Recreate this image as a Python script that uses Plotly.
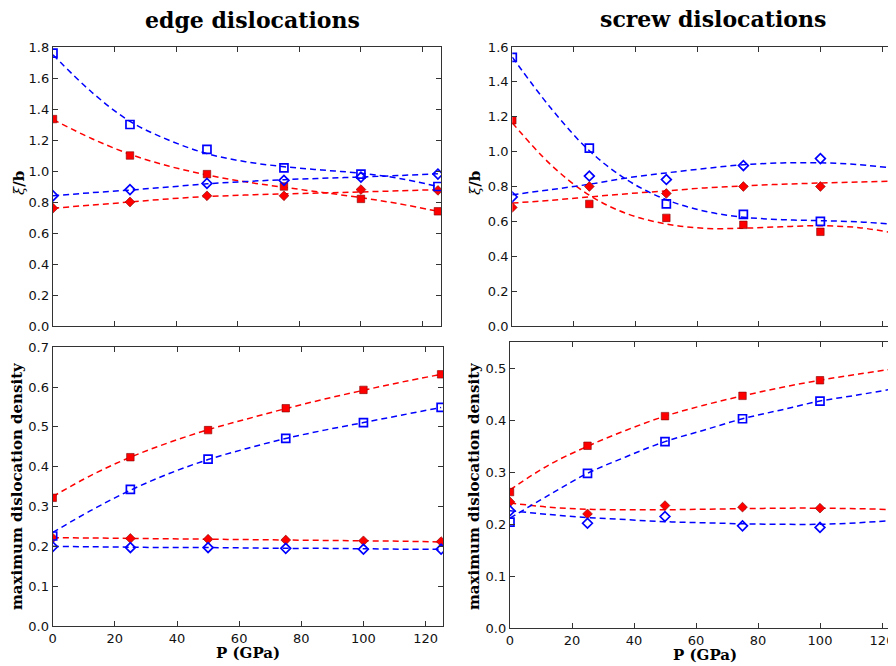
import plotly.graph_objects as go

PAGE_W, PAGE_H = 896, 666
OFF = 8  # default page margin around the figure
W, H = PAGE_W - OFF, PAGE_H - OFF

# ---------------- data ----------------
P = [0, 25, 50, 75, 100, 125]
P_fit = [0, 12.5, 25, 37.5, 50, 62.5, 75, 87.5, 100, 112.5, 125]

# edge dislocations, xi/b
edge_xi_sq_blue = [1.76, 1.30, 1.14, 1.02, 0.98, 0.90]
edge_xi_sq_red = [1.335, 1.10, 0.98, 0.90, 0.82, 0.74]
edge_xi_di_blue = [0.84, 0.88, 0.92, 0.94, 0.96, 0.98]
edge_xi_di_red = [0.76, 0.80, 0.84, 0.84, 0.88, 0.875]
edge_xi_fit_sq_blue = [1.75, 1.51, 1.32, 1.20, 1.112, 1.06, 1.028, 1.006, 0.986, 0.952, 0.90]
edge_xi_fit_sq_red = [1.332, 1.21, 1.108, 1.032, 0.975, 0.93, 0.895, 0.862, 0.828, 0.788, 0.74]
edge_xi_fit_di_blue = [0.84, 0.86, 0.877, 0.897, 0.917, 0.932, 0.944, 0.953, 0.961, 0.971, 0.982]
edge_xi_fit_di_red = [0.76, 0.78, 0.80, 0.82, 0.835, 0.845, 0.852, 0.858, 0.865, 0.872, 0.88]

# screw dislocations, xi/b
screw_xi_sq_blue = [1.54, 1.02, 0.70, 0.64, 0.60, 0.58]
screw_xi_sq_red = [1.18, 0.70, 0.62, 0.58, 0.54, 0.54]
screw_xi_di_blue = [0.74, 0.86, 0.84, 0.92, 0.96, 0.90]
screw_xi_di_red = [0.68, 0.80, 0.76, 0.80, 0.80, 0.84]
screw_xi_fit_sq_blue = [1.542, 1.25, 1.005, 0.835, 0.724, 0.658, 0.624, 0.61, 0.604, 0.597, 0.581]
screw_xi_fit_sq_red = [1.165, 0.925, 0.75, 0.642, 0.585, 0.56, 0.561, 0.569, 0.575, 0.564, 0.53]
screw_xi_fit_di_blue = [0.753, 0.782, 0.813, 0.85, 0.878, 0.903, 0.925, 0.935, 0.936, 0.925, 0.903]
screw_xi_fit_di_red = [0.705, 0.721, 0.74, 0.759, 0.775, 0.792, 0.803, 0.813, 0.82, 0.826, 0.831]

# edge dislocations, maximum dislocation density
edge_rho_sq_red = [0.322, 0.424, 0.492, 0.547, 0.593, 0.632]
edge_rho_sq_blue = [0.226, 0.343, 0.419, 0.471, 0.511, 0.549]
edge_rho_di_red = [0.221, 0.220, 0.218, 0.216, 0.214, 0.212]
edge_rho_di_blue = [0.199, 0.197, 0.197, 0.195, 0.193, 0.193]
edge_rho_fit_sq_red = [0.325, 0.379, 0.424, 0.461, 0.493, 0.52, 0.546, 0.57, 0.592, 0.613, 0.632]
edge_rho_fit_sq_blue = [0.235, 0.291, 0.341, 0.383, 0.418, 0.446, 0.471, 0.492, 0.511, 0.53, 0.549]
edge_rho_fit_di_red = [0.222, 0.221, 0.220, 0.219, 0.218, 0.217, 0.216, 0.215, 0.214, 0.213, 0.211]
edge_rho_fit_di_blue = [0.200, 0.199, 0.198, 0.197, 0.197, 0.196, 0.195, 0.195, 0.194, 0.193, 0.193]

# screw dislocations, maximum dislocation density
screw_rho_sq_red = [0.262, 0.351, 0.408, 0.447, 0.477, 0.50]
screw_rho_sq_blue = [0.204, 0.298, 0.359, 0.403, 0.437, 0.462]
screw_rho_di_red = [0.243, 0.220, 0.236, 0.233, 0.231, 0.228]
screw_rho_di_blue = [0.226, 0.202, 0.215, 0.197, 0.194, 0.210]
screw_rho_fit_sq_red = [0.266, 0.314, 0.350, 0.381, 0.408, 0.429, 0.447, 0.463, 0.477, 0.489, 0.50]
screw_rho_fit_sq_blue = [0.212, 0.256, 0.298, 0.330, 0.359, 0.381, 0.403, 0.420, 0.437, 0.449, 0.462]
screw_rho_fit_di_red = [0.241, 0.233, 0.229, 0.228, 0.228, 0.229, 0.230, 0.231, 0.231, 0.230, 0.228]
screw_rho_fit_di_blue = [0.226, 0.219, 0.213, 0.209, 0.205, 0.203, 0.201, 0.200, 0.200, 0.203, 0.208]

x_ticks = [0, 20, 40, 60, 80, 100, 120]
titles = ["edge dislocations", "screw dislocations"]
ylabel_top = "<i>ξ</i><b>/b</b>"
ylabel_bottom = "<b>maximum dislocation density</b>"
xlabel = "<b>P (GPa)</b>"

RED = "#ff0000"
BLUE = "#0000ff"
DASH = "6px,4px"


def px_x(p):
    return (p - OFF) / W


def px_y(p):
    return 1 - (p - OFF) / H


fig = go.Figure()

panels = [
    ("x", "y", [
        (edge_xi_fit_sq_red, edge_xi_sq_red, RED, "square", True),
        (edge_xi_fit_di_red, edge_xi_di_red, RED, "diamond", True),
        (edge_xi_fit_sq_blue, edge_xi_sq_blue, BLUE, "square", False),
        (edge_xi_fit_di_blue, edge_xi_di_blue, BLUE, "diamond", False),
    ]),
    ("x2", "y2", [
        (screw_xi_fit_sq_red, screw_xi_sq_red, RED, "square", True),
        (screw_xi_fit_di_red, screw_xi_di_red, RED, "diamond", True),
        (screw_xi_fit_sq_blue, screw_xi_sq_blue, BLUE, "square", False),
        (screw_xi_fit_di_blue, screw_xi_di_blue, BLUE, "diamond", False),
    ]),
    ("x3", "y3", [
        (edge_rho_fit_sq_red, edge_rho_sq_red, RED, "square", True),
        (edge_rho_fit_di_red, edge_rho_di_red, RED, "diamond", True),
        (edge_rho_fit_sq_blue, edge_rho_sq_blue, BLUE, "square", False),
        (edge_rho_fit_di_blue, edge_rho_di_blue, BLUE, "diamond", False),
    ]),
    ("x4", "y4", [
        (screw_rho_fit_sq_red, screw_rho_sq_red, RED, "square", True),
        (screw_rho_fit_di_red, screw_rho_di_red, RED, "diamond", True),
        (screw_rho_fit_sq_blue, screw_rho_sq_blue, BLUE, "square", False),
        (screw_rho_fit_di_blue, screw_rho_di_blue, BLUE, "diamond", False),
    ]),
]

for xa, ya, series in panels:
    for fit, pts, col, sym, filled in series:
        fig.add_trace(go.Scatter(
            x=P_fit, y=fit, mode="lines", xaxis=xa, yaxis=ya,
            line=dict(color=col, width=1.5, dash=DASH, shape="spline", smoothing=1.0),
            showlegend=False, hoverinfo="skip"))
    for fit, pts, col, sym, filled in series:
        if filled:
            marker = dict(symbol=sym, size=7.5, color=col,
                          line=dict(color="#800000", width=0.6))
        else:
            marker = dict(symbol=sym + "-open", size=8 if sym == "square" else 7.5, color=col,
                          line=dict(color=col, width=1.7))
        fig.add_trace(go.Scatter(
            x=P, y=pts, mode="markers", xaxis=xa, yaxis=ya,
            marker=marker, showlegend=False))

axis_common = dict(
    automargin=False,
    showgrid=False, zeroline=False, showline=True, linecolor="#333333", linewidth=1.3,
    ticks="inside", ticklen=5, tickwidth=1, tickcolor="#333333",
    tickfont=dict(family="DejaVu Sans", size=13, color="#111111"),
)

fig.update_layout(
    template="none",
    width=W, height=H,
    margin=dict(l=0, r=0, t=0, b=0, pad=0, autoexpand=False),
    paper_bgcolor="white", plot_bgcolor="white",
    showlegend=False,
    xaxis=dict(axis_common, domain=[px_x(53), px_x(441)], range=[0, 126],
               tickvals=x_ticks, showticklabels=False, mirror="ticks", anchor="y"),
    yaxis=dict(axis_common, domain=[px_y(326), px_y(47)], range=[0, 1.8],
               dtick=0.2, tickformat=".1f", mirror="ticks", anchor="x"),
    xaxis2=dict(axis_common, domain=[px_x(512.3), 1.0], range=[0, (PAGE_W - 512.3) / 3.081],
                tickvals=x_ticks, showticklabels=False, mirror="ticks", anchor="y2"),
    yaxis2=dict(axis_common, domain=[px_y(326), px_y(47)], range=[0, 1.6],
                dtick=0.2, tickformat=".1f", mirror=False, anchor="x2"),
    xaxis3=dict(axis_common, domain=[px_x(52.7), px_x(443.3)], range=[0, 125.7],
                tickvals=x_ticks, mirror="ticks", anchor="y3"),
    yaxis3=dict(axis_common, domain=[px_y(626), px_y(347.3)], range=[0, 0.7],
                dtick=0.1, tickformat=".1f", mirror="ticks", anchor="x3"),
    xaxis4=dict(axis_common, domain=[px_x(510), 1.0], range=[0, (PAGE_W - 510) / 3.1],
                tickvals=x_ticks, mirror="ticks", anchor="y4"),
    yaxis4=dict(axis_common, domain=[px_y(628.3), px_y(342.3)], range=[0, 0.55],
                dtick=0.1, tickformat=".1f", mirror=False, anchor="x4"),
)

serif = "DejaVu Serif"
ann = []
ann.append(dict(text="<b>" + titles[0] + "</b>", x=px_x(252), y=px_y(20), font=dict(family=serif, size=22, color="black")))
ann.append(dict(text="<b>" + titles[1] + "</b>", x=px_x(713), y=px_y(19), font=dict(family=serif, size=22, color="black")))
ann.append(dict(text=ylabel_top, x=px_x(19), y=px_y(183), textangle=-90, font=dict(family=serif, size=15, color="black")))
ann.append(dict(text=ylabel_top, x=px_x(475), y=px_y(183), textangle=-90, font=dict(family=serif, size=15, color="black")))
ann.append(dict(text=ylabel_bottom, x=px_x(17), y=px_y(486), textangle=-90, font=dict(family=serif, size=15, color="black")))
ann.append(dict(text=ylabel_bottom, x=px_x(474), y=px_y(486), textangle=-90, font=dict(family=serif, size=15, color="black")))
ann.append(dict(text=xlabel, x=px_x(248), y=px_y(653), font=dict(family=serif, size=15, color="black")))
ann.append(dict(text=xlabel, x=px_x(705), y=px_y(655), font=dict(family=serif, size=15, color="black")))

for a in ann:
    a.update(xref="paper", yref="paper", showarrow=False, xanchor="center", yanchor="middle")
fig.update_layout(annotations=ann)

fig.write_html("out.html")
